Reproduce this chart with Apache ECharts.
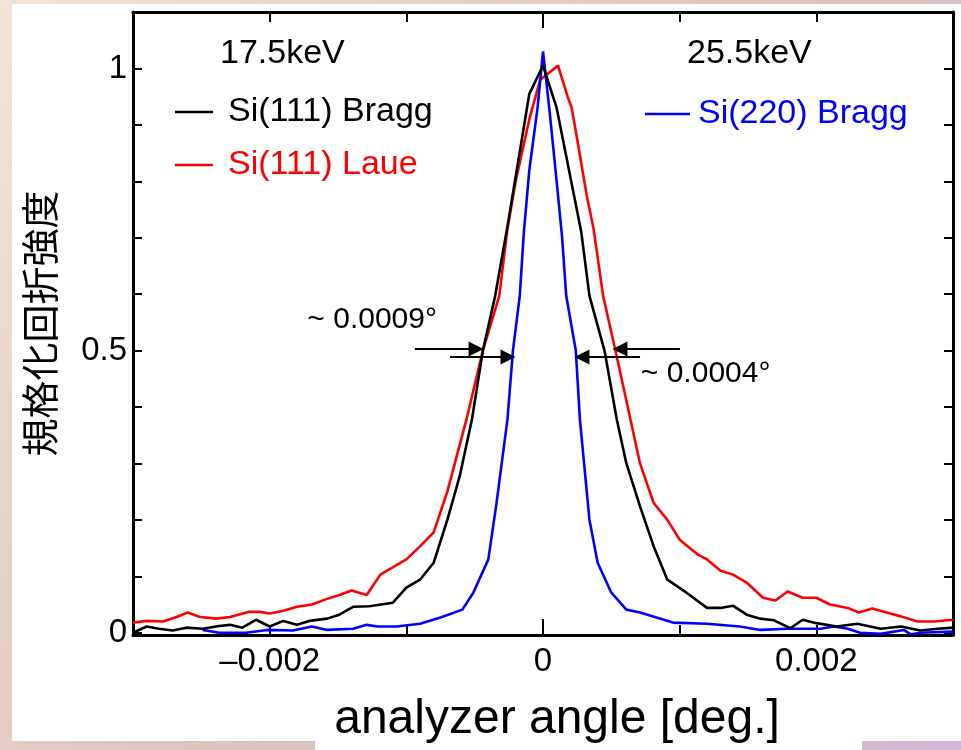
<!DOCTYPE html>
<html>
<head>
<meta charset="utf-8">
<script src="https://cdn.jsdelivr.net/npm/echarts@6/dist/echarts.min.js"></script>
<style>
  html, body { margin: 0; padding: 0; }
  #main { width: 961px; height: 750px; }
</style>
</head>
<body>
<div id="main"></div>
<script>
// analyzer angle [deg.] / normalized intensity
var blackX = [-0.00300, -0.00290, -0.00281, -0.00271, -0.00261, -0.00249, -0.00237, -0.00229, -0.00220, -0.00210,
              -0.00200, -0.00190, -0.00180, -0.00171, -0.00158, -0.00149, -0.00139, -0.00127, -0.00110, -0.00100,
              -0.00090, -0.00080, -0.00070, -0.00061, -0.00052, -0.00044, -0.00035, -0.00026, -0.00010, 0,
              0.00010, 0.00028, 0.00034, 0.00045, 0.00054, 0.00061, 0.00071, 0.00081, 0.00091, 0.00105,
              0.00120, 0.00130, 0.00139, 0.00149, 0.00159, 0.00169, 0.00181, 0.00190, 0.00200, 0.00215,
              0.00230, 0.00247, 0.00262, 0.00276, 0.00289, 0.00300];
var blackY = [0.000, 0.011, 0.007, 0.004, 0.009, 0.007, 0.012, 0.014, 0.009, 0.023,
              0.011, 0.021, 0.014, 0.021, 0.025, 0.032, 0.046, 0.047, 0.053, 0.080,
              0.094, 0.124, 0.200, 0.277, 0.378, 0.500, 0.597, 0.720, 0.955, 1.005,
              0.930, 0.710, 0.597, 0.500, 0.378, 0.300, 0.224, 0.153, 0.094, 0.071,
              0.044, 0.044, 0.048, 0.032, 0.025, 0.022, 0.008, 0.023, 0.017, 0.011,
              0.016, 0.007, 0.011, 0.004, 0.007, 0.009];

var redX = [-0.00300, -0.00290, -0.00278, -0.00268, -0.00260, -0.00251, -0.00239, -0.00229, -0.00215, -0.00207,
            -0.00200, -0.00190, -0.00180, -0.00169, -0.00158, -0.00149, -0.00140, -0.00129, -0.00119, -0.00100,
            -0.00090, -0.00080, -0.00070, -0.00056, -0.00044, -0.00032, -0.00026, -0.00020, -0.00010, -0.00002,
            0.00011, 0.00018, 0.00021, 0.00025, 0.00032, 0.00037, 0.00044, 0.00053, 0.00064, 0.00071,
            0.00081, 0.00091, 0.00100, 0.00113, 0.00120, 0.00130, 0.00139, 0.00149, 0.00161, 0.00170,
            0.00179, 0.00190, 0.00200, 0.00210, 0.00223, 0.00231, 0.00241, 0.00254, 0.00262, 0.00274,
            0.00286, 0.00300];
var redY = [0.018, 0.021, 0.020, 0.028, 0.036, 0.028, 0.025, 0.028, 0.037, 0.037,
            0.034, 0.039, 0.046, 0.050, 0.060, 0.067, 0.075, 0.067, 0.103, 0.130,
            0.153, 0.178, 0.250, 0.378, 0.500, 0.597, 0.716, 0.800, 0.910, 0.980,
            1.005, 0.950, 0.930, 0.875, 0.775, 0.716, 0.597, 0.500, 0.378, 0.300,
            0.230, 0.200, 0.165, 0.139, 0.130, 0.110, 0.103, 0.089, 0.062, 0.057,
            0.073, 0.062, 0.062, 0.050, 0.044, 0.036, 0.043, 0.034, 0.029, 0.020,
            0.020, 0.023];

var blueX = [-0.00249, -0.00237, -0.00217, -0.00202, -0.00183, -0.00169, -0.00158, -0.00139, -0.00129, -0.00121,
             -0.00107, -0.00090, -0.00075, -0.00059, -0.00051, -0.00040, -0.00034, -0.00026, -0.00022, -0.00017,
             -0.00014, -0.00010, -0.00004, 0, 0.00005, 0.00010, 0.00014, 0.00017, 0.00024, 0.00027,
             0.00034, 0.00040, 0.00050, 0.00061, 0.00071, 0.00095, 0.00120, 0.00144, 0.00159, 0.00179,
             0.00203, 0.00213, 0.00223, 0.00232, 0.00247, 0.00264, 0.00269, 0.00276, 0.00300];
var blueY = [0.005, 0.000, 0.000, 0.005, 0.004, 0.011, 0.005, 0.007, 0.014, 0.011,
             0.011, 0.016, 0.027, 0.041, 0.071, 0.130, 0.230, 0.378, 0.500, 0.597,
             0.710, 0.820, 0.930, 1.030, 0.920, 0.800, 0.700, 0.597, 0.500, 0.378,
             0.200, 0.124, 0.071, 0.041, 0.036, 0.018, 0.016, 0.011, 0.005, 0.007,
             0.007, 0.011, 0.007, 0.000, -0.002, 0.005, -0.003, 0.000, 0.002];

var xTicks = [-0.002, -0.001, 0.001, 0.002];
var xLabels = [-0.002, 0, 0.002];
var yTicks = [0, 0.1, 0.2, 0.3, 0.4, 0.5, 0.6, 0.7, 0.8, 0.9, 1.0];
var yLabels = [0, 0.5, 1];

// FWHM arrows: [fromX, toX, y]
var fwhmArrows = [
    [-0.000937, -0.00049, 0.503],
    [-0.00068, -0.000256, 0.4886],
    [0.001002, 0.000563, 0.503],
    [0.00071, 0.000285, 0.4886]
];
var fwhmNotes = [
    { text: '~ 0.0009°', x: -0.00125, y: 0.554 },
    { text: '~ 0.0004°', x: 0.00119, y: 0.4585 }
];

function pairs(xs, ys) {
    return xs.map(function (x, i) { return [x, ys[i]]; });
}

var FONT = '"Liberation Sans", Arial, Helvetica, sans-serif';
var LW = 2.6;
var chart = echarts.init(document.getElementById('main'));

var frameAxis = {
    axisLine: { show: true, onZero: false, lineStyle: { color: '#000', width: 3 } },
    splitLine: { show: false }
};

chart.setOption({
    animation: false,
    backgroundColor: new echarts.graphic.LinearGradient(0, 0, 1, 1, [
        { offset: 0, color: '#f5e3d6' },
        { offset: 0.5, color: '#dcc5bd' },
        { offset: 1, color: '#d0bad4' }
    ]),
    graphic: [
        { type: 'rect', z: -10, shape: { x: 12, y: 4, width: 949, height: 737 }, style: { fill: '#fff' } },
        { type: 'rect', z: -10, shape: { x: 315, y: 700, width: 547, height: 50 }, style: { fill: '#fff' } },
        { type: 'text', z: 50, left: 220, top: 37, style: { text: '17.5keV', font: '34px ' + FONT, fill: '#000' } },
        { type: 'text', z: 50, left: 687, top: 37, style: { text: '25.5keV', font: '34px ' + FONT, fill: '#000' } }
    ],
    grid: { left: 133, right: 8, top: 12, bottom: 115 },
    legend: [{
        left: 170, top: 90, orient: 'vertical', itemGap: 19,
        icon: 'rect', itemWidth: 38, itemHeight: 2.6, selectedMode: false,
        textStyle: { fontSize: 34, fontFamily: FONT, padding: [0, 0, 0, 10] },
        data: [
            { name: 'Si(111) Bragg', textStyle: { color: '#000' } },
            { name: 'Si(111) Laue', textStyle: { color: '#ff0000' } }
        ]
    }, {
        left: 640, top: 92, icon: 'rect', itemWidth: 45, itemHeight: 2.6, selectedMode: false,
        textStyle: { fontSize: 34, fontFamily: FONT, padding: [0, 0, 0, 3] },
        data: [{ name: 'Si(220) Bragg', textStyle: { color: '#0000ff' } }]
    }],
    xAxis: [
        Object.assign({}, frameAxis, {
            type: 'value', min: -0.003, max: 0.003, position: 'bottom',
            axisTick: { inside: true, length: 10, customValues: xTicks, lineStyle: { color: '#000', width: 2 } },
            axisLabel: {
                customValues: xLabels, fontSize: 33, fontFamily: FONT, color: '#000', margin: 10,
                formatter: function (v) { return v < 0 ? '\u2013' + Math.abs(v) : String(v); }
            },
            name: 'analyzer angle [deg.]', nameLocation: 'middle', nameGap: 61,
            nameTextStyle: { fontSize: 48, fontFamily: FONT, color: '#000', padding: [0, 0, 0, 28] }
        }),
        Object.assign({}, frameAxis, {
            type: 'value', min: -0.003, max: 0.003, position: 'top',
            axisTick: { inside: true, length: 10, customValues: xTicks, lineStyle: { color: '#000', width: 2 } },
            axisLabel: { show: false }
        }),
        {
            type: 'value', min: -0.003, max: 0.003, position: 'bottom',
            axisLine: { show: false, onZero: false }, splitLine: { show: false }, axisLabel: { show: false },
            axisTick: { inside: true, length: 16, customValues: [0], lineStyle: { color: '#000', width: 2 } }
        },
        {
            type: 'value', min: -0.003, max: 0.003, position: 'top',
            axisLine: { show: false, onZero: false }, splitLine: { show: false }, axisLabel: { show: false },
            axisTick: { inside: true, length: 16, customValues: [0], lineStyle: { color: '#000', width: 2 } }
        }
    ],
    yAxis: [
        Object.assign({}, frameAxis, {
            type: 'value', min: -0.004, max: 1.1, position: 'left',
            axisTick: { inside: true, length: 9, customValues: yTicks, lineStyle: { color: '#000', width: 2 } },
            axisLabel: {
                customValues: yLabels, fontSize: 33, fontFamily: FONT, color: '#000', margin: 6,
                formatter: function (v) { return String(v); }
            },
            name: '規格化回折強度', nameLocation: 'middle', nameRotate: 90, nameGap: 74,
            nameTextStyle: { fontSize: 38, fontFamily: '"Noto Sans CJK JP", sans-serif', color: '#000' }
        }),
        Object.assign({}, frameAxis, {
            type: 'value', min: -0.004, max: 1.1, position: 'right',
            axisTick: { inside: true, length: 9, customValues: yTicks, lineStyle: { color: '#000', width: 2 } },
            axisLabel: { show: false }
        })
    ],
    series: [{
        name: 'Si(111) Laue', type: 'line', symbol: 'none',
        data: pairs(redX, redY),
        lineStyle: { color: '#ff0000', width: LW }, itemStyle: { color: '#ff0000' }
    }, {
        name: 'Si(220) Bragg', type: 'line', symbol: 'none',
        data: pairs(blueX, blueY),
        lineStyle: { color: '#0000ff', width: LW }, itemStyle: { color: '#0000ff' }
    }, {
        name: 'Si(111) Bragg', type: 'line', symbol: 'none', z: 3,
        data: pairs(blackX, blackY),
        lineStyle: { color: '#000', width: LW }, itemStyle: { color: '#000' },
        markLine: {
            silent: true, symbol: ['none', 'triangle'], symbolSize: 15,
            label: { show: false },
            lineStyle: { color: '#000', width: 2, type: 'solid' },
            data: fwhmArrows.map(function (a) {
                return [{ coord: [a[0], a[2]] }, { coord: [a[1], a[2]] }];
            })
        },
        markPoint: {
            silent: true,
            data: fwhmNotes.map(function (n) {
                return {
                    coord: [n.x, n.y], symbol: 'circle', symbolSize: 1,
                    itemStyle: { color: 'rgba(0,0,0,0)' },
                    label: { show: true, position: 'inside', formatter: n.text, fontSize: 30, fontFamily: FONT, color: '#000' }
                };
            })
        }
    }]
});
</script>
</body>
</html>
